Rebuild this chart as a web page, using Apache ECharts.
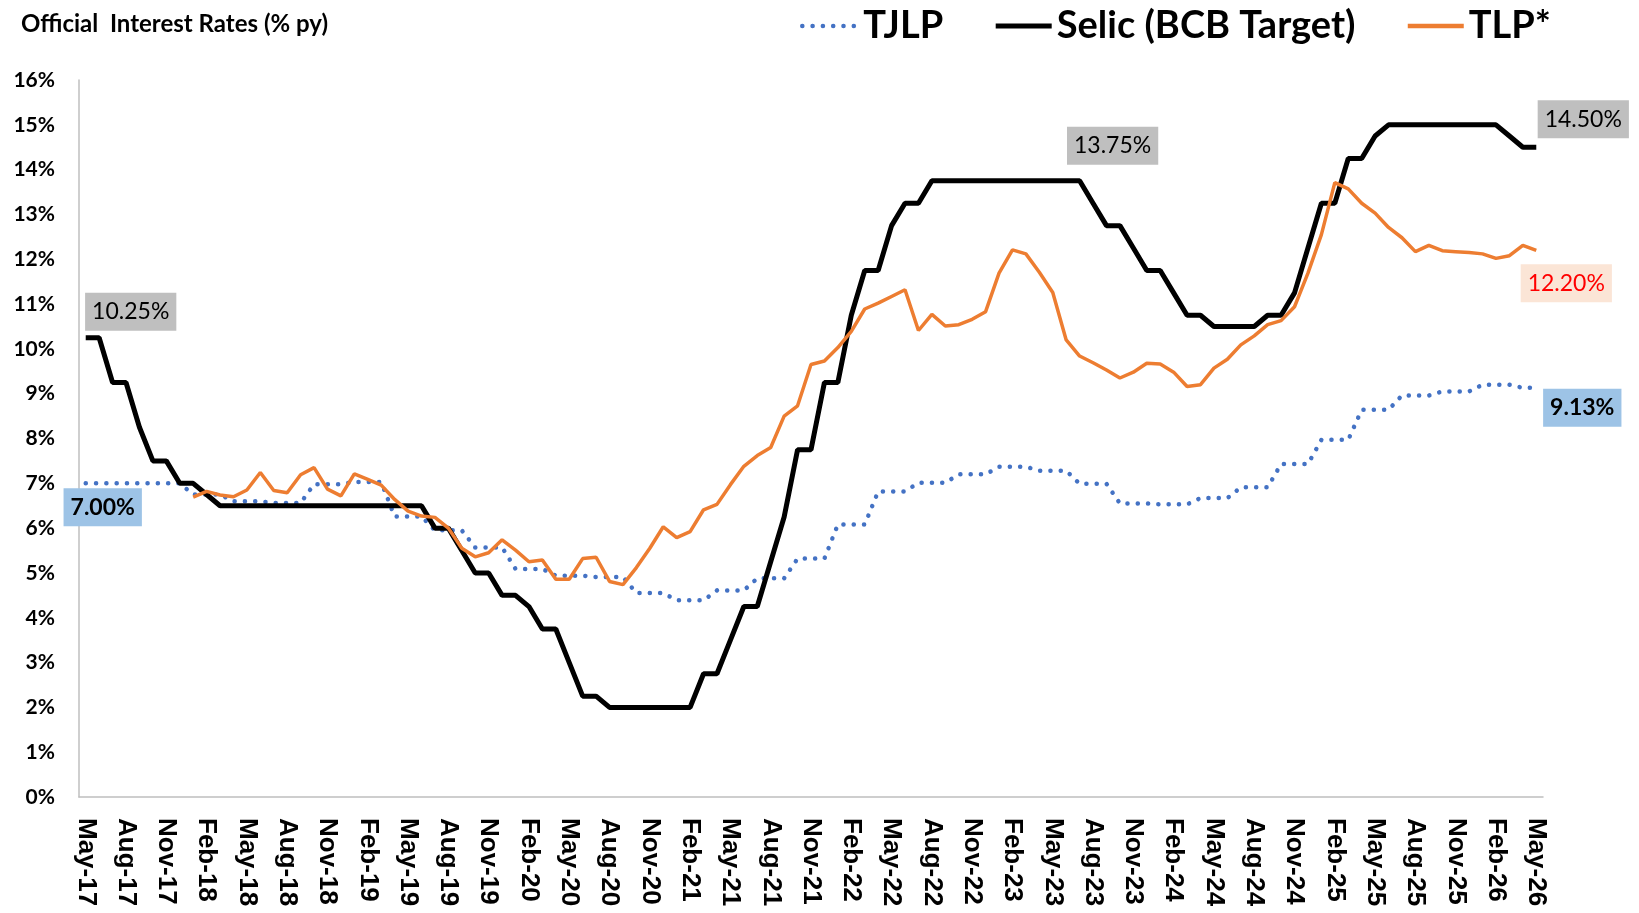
<!DOCTYPE html>
<html>
<head>
<meta charset="utf-8">
<script src="https://cdn.jsdelivr.net/npm/echarts@6/dist/echarts.min.js"></script>
<style>
  html, body { margin: 0; padding: 0; background: #fff; }
  #container { width: 1639px; height: 913px; }
</style>
</head>
<body>
<div id="container"></div>
<script>
var dom = document.getElementById("container");
var chart = echarts.init(dom);

// monthly categories, May-17 .. May-26
const monthNames = ["Jan", "Feb", "Mar", "Apr", "May", "Jun", "Jul", "Aug", "Sep", "Oct", "Nov", "Dec"];
const months = [];
for (let i = 0; i < 109; i++) {
    let m = (4 + i) % 12;
    let y = 17 + Math.floor((4 + i) / 12);
    months.push(monthNames[m] + "-" + y);
}

// TJLP (% py), quarterly rate repeated per month
const tjlp = [
    7.00, 7.00, 7.00, 7.00, 7.00, 7.00, 7.00, 7.00,
    6.75, 6.75, 6.75, 6.60, 6.60, 6.60, 6.56, 6.56, 6.56, 6.98, 6.98, 6.98,
    7.03, 7.03, 7.03, 6.26, 6.26, 6.26, 5.95, 5.95, 5.95, 5.57, 5.57, 5.57,
    5.09, 5.09, 5.09, 4.94, 4.94, 4.94, 4.91, 4.91, 4.91, 4.55, 4.55, 4.55,
    4.39, 4.39, 4.39, 4.61, 4.61, 4.61, 4.88, 4.88, 4.88, 5.32, 5.32, 5.32,
    6.08, 6.08, 6.08, 6.82, 6.82, 6.82, 7.01, 7.01, 7.01, 7.20, 7.20, 7.20,
    7.37, 7.37, 7.37, 7.28, 7.28, 7.28, 6.99, 6.99, 6.99, 6.55, 6.55, 6.55,
    6.53, 6.53, 6.53, 6.67, 6.67, 6.67, 6.91, 6.91, 6.91, 7.43, 7.43, 7.43,
    7.97, 7.97, 7.97, 8.64, 8.64, 8.64, 8.96, 8.96, 8.96, 9.05, 9.05, 9.05,
    9.20, 9.20, 9.20, 9.13, 9.13
];

// Selic BCB target (% py)
const selic = [
    10.25, 10.25, 9.25, 9.25, 8.25, 7.50, 7.50, 7.00,
    7.00, 6.75, 6.50, 6.50, 6.50, 6.50, 6.50, 6.50, 6.50, 6.50, 6.50, 6.50,
    6.50, 6.50, 6.50, 6.50, 6.50, 6.50, 6.00, 6.00, 5.50, 5.00, 5.00, 4.50,
    4.50, 4.25, 3.75, 3.75, 3.00, 2.25, 2.25, 2.00, 2.00, 2.00, 2.00, 2.00,
    2.00, 2.00, 2.75, 2.75, 3.50, 4.25, 4.25, 5.25, 6.25, 7.75, 7.75, 9.25,
    9.25, 10.75, 11.75, 11.75, 12.75, 13.25, 13.25, 13.75, 13.75, 13.75, 13.75, 13.75,
    13.75, 13.75, 13.75, 13.75, 13.75, 13.75, 13.75, 13.25, 12.75, 12.75, 12.25, 11.75,
    11.75, 11.25, 10.75, 10.75, 10.50, 10.50, 10.50, 10.50, 10.75, 10.75, 11.25, 12.25,
    13.25, 13.25, 14.25, 14.25, 14.75, 15.00, 15.00, 15.00, 15.00, 15.00, 15.00, 15.00,
    15.00, 15.00, 14.75, 14.50, 14.50
];

// TLP (% py), starts Jan-18
const tlp = [
    null, null, null, null, null, null, null, null,
    6.69, 6.82, 6.74, 6.70, 6.85, 7.24, 6.84, 6.79, 7.19, 7.35, 6.87, 6.72,
    7.21, 7.09, 6.96, 6.64, 6.38, 6.27, 6.24, 6.00, 5.55, 5.36, 5.45, 5.74,
    5.51, 5.25, 5.29, 4.86, 4.86, 5.32, 5.35, 4.81, 4.74, 5.12, 5.55, 6.03,
    5.79, 5.92, 6.41, 6.53, 6.97, 7.38, 7.62, 7.80, 8.50, 8.73, 9.65, 9.73,
    10.03, 10.39, 10.89, 11.02, 11.17, 11.32, 10.41, 10.77, 10.51, 10.54, 10.66, 10.83,
    11.69, 12.21, 12.12, 11.71, 11.26, 10.20, 9.84, 9.69, 9.53, 9.35, 9.48, 9.68,
    9.66, 9.48, 9.16, 9.20, 9.57, 9.77, 10.09, 10.29, 10.54, 10.63, 10.94, 11.69,
    12.55, 13.71, 13.57, 13.25, 13.03, 12.71, 12.48, 12.17, 12.31, 12.19, 12.17, 12.15,
    12.12, 12.02, 12.08, 12.31, 12.20
];

const last = months.length - 1;

const boxLabel = {
    show: true,
    position: "inside",
    fontFamily: "Lato",
    fontSize: 23,
    color: "#000",
    lineHeight: 26,
    padding: [6, 7],
    formatter: function (p) {
        return p.value.toFixed(2) + "%";
    },
};

function mark(series, idx, offset, extra) {
    return {
        coord: [months[idx], series[idx]],
        value: series[idx],
        label: Object.assign({ offset: offset }, extra),
    };
}

option = {
    backgroundColor: "#fff",
    animation: false,
    title: {
        text: "Official  Interest Rates (% py)",
        left: 16,
        top: 7,
        textStyle: {
            fontFamily: "Lato",
            fontSize: 24,
            fontWeight: "bold",
            color: "#000",
        },
    },
    legend: {
        left: 795,
        top: 2,
        itemWidth: 56,
        itemHeight: 26,
        itemGap: 50,
        itemStyle: { opacity: 0 },
        textStyle: {
            fontFamily: "Lato",
            fontSize: 38,
            fontWeight: "bold",
            color: "#000",
        },
        data: [
            { name: "TJLP", lineStyle: { width: 4.5 } },
            { name: "Selic (BCB Target)", lineStyle: { width: 5 } },
            { name: "TLP*", lineStyle: { width: 4.5 } },
        ],
    },
    grid: {
        left: 79,
        right: 96,
        top: 80,
        bottom: 116,
    },
    xAxis: {
        type: "category",
        data: months,
        boundaryGap: true,
        axisLine: { lineStyle: { color: "#bfbfbf", width: 1.5 } },
        axisTick: { show: false },
        axisLabel: {
            interval: 2,
            rotate: -90,
            margin: 21,
            fontFamily: "Liberation Sans",
            fontSize: 26,
            fontWeight: "bold",
            color: "#000",
        },
    },
    yAxis: {
        type: "value",
        min: 0,
        max: 16,
        interval: 1,
        axisLine: { show: true, lineStyle: { color: "#bfbfbf", width: 1.5 } },
        axisTick: { show: false },
        splitLine: { show: false },
        axisLabel: {
            formatter: "{value}%",
            margin: 24,
            fontFamily: "Lato",
            fontSize: 21,
            fontWeight: "bold",
            color: "#000",
        },
    },
    series: [
        {
            name: "TJLP",
            type: "line",
            data: tjlp,
            symbol: "none",
            lineStyle: { color: "#4472c4", width: 4.5, type: [0.1, 10.2], cap: "round" },
            itemStyle: { color: "#4472c4" },
            markPoint: {
                symbol: "circle",
                symbolSize: 1,
                itemStyle: { color: "rgba(0,0,0,0)" },
                label: boxLabel,
                data: [
                    mark(tjlp, 0, [17, 24], { backgroundColor: "#9dc3e6", fontWeight: "bold" }),
                    mark(tjlp, last, [46, 20], { backgroundColor: "#9dc3e6", fontWeight: "bold" }),
                ],
            },
            z: 2,
        },
        {
            name: "Selic (BCB Target)",
            type: "line",
            data: selic,
            symbol: "none",
            lineStyle: { color: "#000", width: 5 },
            itemStyle: { color: "#000" },
            markPoint: {
                symbol: "circle",
                symbolSize: 1,
                itemStyle: { color: "rgba(0,0,0,0)" },
                label: boxLabel,
                data: [
                    mark(selic, 0, [45, -26], { backgroundColor: "#bfbfbf" }),
                    mark(selic, 74, [33, -35], { backgroundColor: "#bfbfbf" }),
                    mark(selic, last, [47, -28], { backgroundColor: "#bfbfbf" }),
                ],
            },
            z: 3,
        },
        {
            name: "TLP*",
            type: "line",
            data: tlp,
            symbol: "none",
            lineStyle: { color: "#ed7d31", width: 3.5 },
            itemStyle: { color: "#ed7d31" },
            markPoint: {
                symbol: "circle",
                symbolSize: 1,
                itemStyle: { color: "rgba(0,0,0,0)" },
                label: boxLabel,
                data: [
                    mark(tlp, last, [30, 33], { backgroundColor: "#fbe5d6", color: "#ff0000" }),
                ],
            },
            z: 4,
        },
    ],
};

chart.setOption(option);
</script>
</body>
</html>
